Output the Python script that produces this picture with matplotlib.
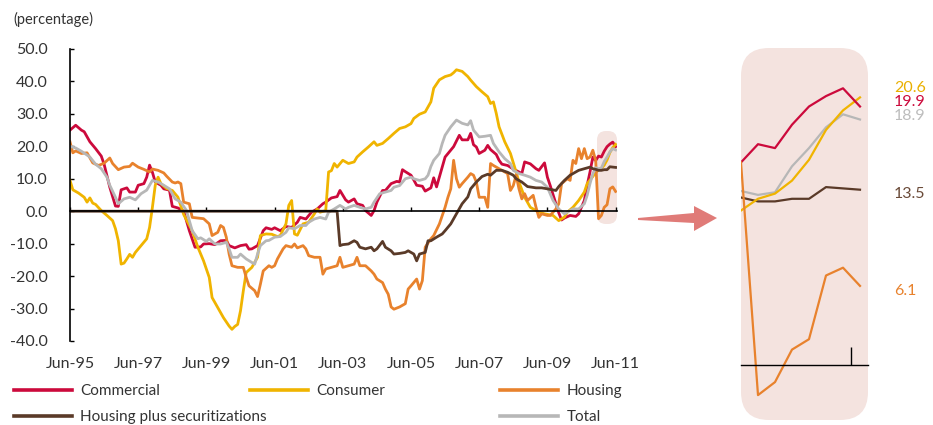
import matplotlib
matplotlib.use('Agg')
import matplotlib.pyplot as plt
from matplotlib.patches import FancyBboxPatch, Polygon
from matplotlib.lines import Line2D

plt.rcParams['font.family'] = ['Lato', 'DejaVu Sans']

# month offset from Jun-95, value (%)
commercial = [(0, 25), (2, 26.5), (4, 25), (5, 24.5), (7, 21.4), (9, 19.3), (11, 17), (12, 14.5), (14, 7.4),
              (16, 1.6), (17, 1.5), (18, 6.6), (20, 7.2), (21, 5.9), (23, 5.9), (24, 8), (26, 8.5), (27, 10.5),
              (28, 14.2), (29, 12), (30, 9), (32, 8), (33, 6.9), (35, 6.5), (36, 1.5), (38, 1.0), (40, 0),
              (42, -6), (44, -11.1), (46, -11), (47, -10.1), (49, -10), (51, -10.3), (53, -9.1), (55, -9),
              (56, -10.6), (58, -11.3), (60, -10.6), (62, -10.3), (63, -11.7), (64, -11.6), (66, -10.6),
              (68, -6), (69, -5.1), (71, -5.6), (72, -5.1), (74, -6), (76, -4.7), (78, -5), (80, -3.4),
              (81, -1.9), (83, -2.4), (85, -0.3), (87, 0.7), (89, 2.3), (90, 2.8), (92, 4.1), (94, 4.5),
              (95, 6.4), (97, 3.5), (98, 2.8), (100, 3.8), (101, 2.3), (103, 1.8), (104, 0.2), (106, -1.3),
              (107, 0.2), (108, 2.8), (110, 6.4), (111, 6.4), (113, 8.5), (115, 9.2), (116, 9), (117, 12.8),
              (118, 12.2), (120, 11.1), (121, 9.6), (122, 8), (124, 7.7), (125, 6.2), (127, 7.2), (128, 10.3),
              (129, 7.5), (131, 13.6), (132, 16.7), (134, 18.8), (135, 19.9), (137, 23.4), (138, 22),
              (140, 22), (141, 24), (142, 20.5), (143, 19.8), (144, 17.8), (146, 18.8), (147, 20.3),
              (148, 19), (150, 17.5), (151, 15.7), (152, 14.5), (154, 14.1), (156, 13), (158, 12.1),
              (159, 11.6), (160, 15.2), (162, 14.6), (164, 13.1), (165, 12.6), (167, 14.9), (168, 10.5),
              (169, 7.9), (171, 2.3), (172, -0.5), (173, -2.7), (174, -2.1), (176, -1.3), (178, -1.6),
              (179, -0.8), (181, 3.3), (182, 8), (183, 12.1), (184, 16.7), (185, 15.6), (186, 17.0),
              (187, 16.7), (188, 18.5), (189, 19.9), (190, 20.7), (191, 21.3), (192, 19.9)]

consumer = [(0, 9.5), (1, 6.6), (3, 5.6), (5, 4.3), (6, 2.8), (7, 4.1), (8, 2.5), (9, 2.1), (11, 0.2),
            (13, -1.3), (15, -2.9), (16, -5.4), (17, -9.1), (18, -16.3), (19, -16), (20, -14.7),
            (21, -13.3), (22, -14.2), (23, -12.7), (25, -10.6), (27, -8.5), (28, -5), (29, 1.2), (30, 8),
            (31, 10.5), (32, 8.5), (34, 7), (36, 6.4), (38, 4.3), (40, -1), (43, -6), (45, -11.1),
            (47, -15.3), (49, -20.4), (50, -26.6), (52, -29.7), (54, -32.8), (56, -35.4), (57, -36.4),
            (58, -35.5), (59, -34.9), (60, -30.7), (61, -24.5), (62, -18.9), (64, -17.3), (66, -14.2),
            (67, -7.5), (69, -7), (71, -7.1), (73, -7.8), (74, -7.5), (76, -3.9), (77, 1.8), (78, 3.3),
            (79, -7), (80, -7.4), (82, -3.9), (84, -3.4), (86, -0.8), (87, 0.7), (88, -0.3), (90, 0.2),
            (91, 12.1), (92, 12.5), (93, 14.7), (94, 13.6), (96, 15.7), (98, 14.7), (100, 15.2),
            (101, 16.7), (103, 18.3), (105, 19.8), (107, 21.4), (108, 20.3), (110, 20.9), (112, 22.4),
            (114, 24), (116, 25.5), (118, 26), (120, 27), (121, 28.6), (123, 29.9), (125, 30.6),
            (127, 33.7), (128, 37.9), (130, 40.5), (132, 41.5), (134, 42), (135, 42.7), (136, 43.6),
            (138, 43.1), (140, 41.5), (141, 40.4), (143, 38.4), (145, 36.8), (147, 35.3), (148, 33.2),
            (149, 33.7), (150, 30.2), (151, 26), (153, 21.4), (155, 17.8), (157, 12.1), (158, 9),
            (160, 4.3), (162, 1.2), (165, -0.3), (167, -0.8), (170, -1.3), (172, -2.9), (174, -1.8),
            (175, -0.3), (177, 1.2), (179, 3.3), (181, 5.9), (182, 8.5), (184, 10.7), (185, 11.9),
            (186, 12.8), (187, 13.2), (188, 14.2), (189, 15.8), (190, 18.1), (191, 19.6), (192, 20.6)]

housing = [(0, 21.4), (1, 18), (2, 18.6), (4, 17.8), (6, 18), (8, 14.9), (10, 14.1), (12, 14.8), (14, 16.4),
           (15, 14.7), (17, 12.8), (19, 13.6), (21, 13.8), (22, 14.8), (24, 13.6), (26, 12.9), (28, 12.1),
           (29, 13), (31, 12.6), (33, 11.8), (34, 10.8), (36, 9), (37, 8.7), (38, 9), (39, 8.5), (40, 2.8),
           (42, 2.3), (43, -1.9), (45, -2.1), (47, -2.3), (49, -3.9), (50, -7.5), (52, -6.5), (53, -4.4),
           (54, -5), (55, -8), (56, -13.2), (57, -16.8), (59, -17.3), (61, -17.3), (62, -20.4), (63, -23),
           (65, -24.5), (66, -26.3), (67, -22.5), (68, -18.4), (70, -16.8), (71, -17.3), (72, -16.8),
           (73, -14.7), (75, -11.6), (76, -10.6), (78, -11.1), (79, -10.1), (80, -11.3), (82, -10.6),
           (83, -11.6), (84, -13.7), (86, -14.2), (88, -14.2), (89, -19.4), (90, -17.8), (92, -17.3),
           (94, -16.8), (95, -14.2), (96, -17.3), (98, -16.8), (100, -16.3), (101, -14.2), (102, -16.8),
           (104, -16.8), (106, -18.4), (107, -19.4), (108, -20.9), (110, -22), (111, -24), (112, -25.6),
           (113, -29.5), (114, -30.2), (116, -29.5), (118, -28.5), (119, -24), (120, -23), (122, -20.9),
           (123, -24), (124, -21.4), (125, -11.1), (127, -8.5), (128, -7.5), (130, -3.9), (132, 1.2),
           (133, 4.3), (134, 6.9), (135, 15.7), (136, 10), (137, 7.4), (138, 8.5), (140, 10.5), (141, 11.6),
           (142, 11.1), (143, 9), (144, 4.3), (146, 4.3), (147, 1.2), (148, 14.7), (149, 14.1), (151, 13.1),
           (152, 12.6), (153, 12.1), (154, 11.6), (155, 6.4), (156, 7.9), (157, 11.1), (158, 6.9),
           (159, 3.8), (160, 5.4), (161, 3.3), (163, 4.9), (164, 1.2), (165, -1.9), (166, -0.8),
           (168, -1.3), (169, -1.3), (171, 0.7), (172, 2.3), (173, 8.5), (175, 10), (176, 9.5), (177, 15.7),
           (178, 14.7), (179, 19.3), (180, 16.2), (181, 19.3), (182, 16.2), (183, 16.7), (184, 18.8),
           (185, 15.6), (186, -2.3), (187, -1.3), (188, 1.2), (189, 2.0), (190, 6.9), (191, 7.5), (192, 6.1)]

housing_sec = [(0, 0), (94, 0), (95, -10.6), (96, -10.3), (98, -10.1), (100, -9.1), (101, -9.6), (102, -11.1),
               (104, -11.6), (106, -11.1), (107, -12.2), (108, -11.6), (110, -9.3), (111, -11.1), (113, -12.2),
               (114, -13.2), (116, -13), (118, -12.7), (119, -12.2), (121, -13.2), (122, -15.3), (123, -13.2),
               (125, -12.7), (126, -9.1), (127, -9.1), (129, -8), (131, -7), (132, -6), (134, -3.9),
               (136, -0.8), (138, 2.3), (140, 4.4), (141, 6.9), (143, 9), (145, 10.7), (147, 11.4),
               (148, 11.1), (150, 12.6), (152, 12.6), (154, 12), (156, 11.1), (157, 10), (159, 9), (161, 7.6),
               (164, 7.2), (166, 7.2), (168, 6.9), (171, 6.4), (172, 7.6), (174, 9.5), (176, 11.1), (178, 12.1),
               (179, 12.6), (181, 13.1), (183, 13.6), (184, 13.1), (185, 12.9), (186, 12.6), (187, 12.6),
               (188, 12.8), (189, 12.8), (190, 13.7), (191, 13.6), (192, 13.5)]

total = [(0, 20), (2, 19.5), (4, 18.5), (7, 16.7), (9, 14.5), (11, 13.1), (13, 10.5), (14, 8), (16, 4.3),
         (17, 2.3), (19, 3.8), (21, 4.3), (23, 3.5), (25, 5.4), (27, 6.5), (29, 9.5), (31, 9), (33, 8),
         (35, 6.9), (37, 3.8), (39, 2.8), (41, 0.2), (43, -6), (45, -8.5), (46, -8.2), (48, -9.3), (49, -8.5),
         (51, -10.1), (53, -10.1), (55, -9.6), (56, -11.6), (57, -14.2), (59, -14.2), (60, -13.2), (62, -14.7),
         (64, -15.8), (65, -16.3), (66, -13.2), (67, -10.6), (69, -9.1), (70, -9), (72, -8), (74, -7.8),
         (76, -6.5), (77, -5.1), (79, -5.4), (81, -4.4), (83, -4.4), (84, -3.4), (86, -2.4), (88, -1.9),
         (90, -2.4), (91, -0.3), (93, 0.7), (95, 1.8), (97, 0.7), (98, 1.2), (100, 1.8), (102, 1.2), (104, 0.7),
         (106, 1.2), (107, 2.8), (109, 5.4), (111, 5.9), (113, 6.4), (114, 7.4), (116, 7.9), (118, 10),
         (120, 10.5), (121, 10), (123, 9.5), (125, 10), (126, 11.1), (127, 13.8), (128, 15.7), (130, 17.8),
         (131, 20.9), (132, 23.4), (134, 26), (136, 28.1), (138, 27.1), (140, 26.6), (141, 27.9), (142, 25),
         (144, 22.9), (146, 23.1), (148, 23.4), (149, 20.9), (151, 18.3), (153, 16.2), (155, 14.7),
         (156, 12.6), (158, 11.6), (160, 11.1), (162, 10.5), (164, 9.5), (166, 9), (168, 7.4), (170, 3.3),
         (172, 0.7), (174, -0.8), (175, -0.3), (177, 0.7), (179, 0.7), (181, 2.3), (182, 4.9), (183, 8.5),
         (184, 11.6), (185, 13.4), (186, 13.1), (187, 13.3), (188, 15.3), (189, 16.7), (190, 18.3),
         (191, 19.3), (192, 18.9)]

tick_months = [0, 24, 48, 72, 96, 120, 144, 168, 192]
tick_labels = ['Jun-95', 'Jun-97', 'Jun-99', 'Jun-01', 'Jun-03', 'Jun-05', 'Jun-07', 'Jun-09', 'Jun-11']
y_ticks = [50, 40, 30, 20, 10, 0, -10, -20, -30, -40]
zoom_start = 185   # first month shown in the blow-up panel

C_COM, C_CON, C_HOU, C_HS, C_TOT = '#cc0a3c', '#f0b400', '#e8822d', '#5a3a28', '#b7b7b7'
PINK = '#f4e3df'
TXT = '#333333'

W, H = 933, 425
fig = plt.figure(figsize=(W / 100, H / 100), dpi=100)


def fx(x):
    return x / W


def fy(y):
    return 1 - y / H


def rbox(ax, x0, y0, x1, y1, r):
    p = FancyBboxPatch((fx(x0), fy(y1)), (x1 - x0) / W, (y1 - y0) / H,
                       boxstyle='round,pad=0,rounding_size=%f' % (r / W), mutation_aspect=W / H,
                       transform=fig.transFigure, fc=PINK, ec='none', zorder=0.5, clip_on=False)
    ax.add_patch(p)


series = [(commercial, C_COM, 'Commercial'), (consumer, C_CON, 'Consumer'), (housing, C_HOU, 'Housing'),
          (total, C_TOT, 'Total'), (housing_sec, C_HS, 'Housing plus securitizations')]

# ---- main chart
ax = fig.add_axes([fx(70), fy(341), (617 - 70) / W, (341 - 49) / H])
ax.patch.set_alpha(0)
rbox(ax, 597, 131, 617, 224, 9)
for data, col, name in series:
    m, v = zip(*data)
    ax.plot(m, v, color=col, lw=2.0, solid_joinstyle='round', zorder=2)
ax.set_xlim(0, 192.5)
ax.set_ylim(-40, 50)
for s in ['top', 'right']:
    ax.spines[s].set_visible(False)
ax.spines['bottom'].set_position(('data', 0))
ax.spines['bottom'].set_linewidth(1.2)
ax.spines['left'].set_linewidth(1.2)
ax.set_xticks(tick_months)
ax.tick_params(axis='x', direction='in', length=3, width=1, labelbottom=False)
ax.set_yticks(y_ticks)
ax.set_yticklabels(['%.1f' % t for t in y_ticks])
ax.tick_params(axis='y', direction='in', length=3, width=1, pad=16, labelsize=11.5, labelcolor=TXT)
for m, lab in zip(tick_months, tick_labels):
    ax.text(m, -0.079, lab, transform=ax.get_xaxis_transform(), ha='center', va='center',
            fontsize=11.5, color=TXT)
fig.text(fx(13), fy(19), '(percentage)', fontsize=10.5, color=TXT, va='center', ha='left')

# ---- blow-up panel
ax2 = fig.add_axes([fx(741), fy(420), (868 - 741) / W, (420 - 48) / H])
ax2.patch.set_alpha(0)
rbox(ax2, 741, 48, 868, 420, 28)
order2 = [(housing_sec, C_HS), (total, C_TOT), (consumer, C_CON), (commercial, C_COM), (housing, C_HOU)]
for data, col in order2:
    pts = [(m - zoom_start, v) for m, v in data if m >= zoom_start]
    m, v = zip(*pts)
    ax2.plot(m, v, color=col, lw=1.6, zorder=2)
ax2.set_xlim(0, 127 / 17)
ax2.set_ylim((365.2 - 420) / 13, (365.2 - 48) / 13)
for s in ['top', 'right', 'left']:
    ax2.spines[s].set_visible(False)
ax2.spines['bottom'].set_position(('data', 0))
ax2.spines['bottom'].set_linewidth(1.0)
ax2.set_yticks([])
ax2.set_xticks([6.47])
ax2.tick_params(axis='x', direction='in', length=13, width=1, labelbottom=False)

# end values next to the panel
end_labels = [(consumer, '#e9b000', 88), (commercial, C_COM, 101.5), (total, '#bdbdbd', 116),
              (housing_sec, '#6a4a38', 193.5), (housing, C_HOU, 291)]
for data, col, ypx in end_labels:
    fig.text(fx(894), fy(ypx), '%.1f' % data[-1][1], color=col, fontsize=11.5, va='center', ha='left')

# arrow
arrow_px = [(638, 218), (694, 213), (694, 206), (717, 218), (694, 231), (694, 223), (638, 220)]
fig.add_artist(Polygon([(fx(x), fy(y)) for x, y in arrow_px], closed=True, fc='#e07b78', ec='none',
                       transform=fig.transFigure))

# legend
h = {name: Line2D([], [], color=col, lw=2.6) for _, col, name in series}
kw = dict(frameon=False, fontsize=11, handlelength=3.8, handletextpad=0.55, labelspacing=0.78,
          borderpad=0, borderaxespad=0, loc='upper left', labelcolor=TXT)
fig.legend([h['Commercial'], h['Housing plus securitizations']], ['Commercial', 'Housing plus securitizations'],
           bbox_to_anchor=(fx(14), fy(384)), **kw)
fig.legend([h['Consumer']], ['Consumer'], bbox_to_anchor=(fx(250), fy(384)), **kw)
fig.legend([h['Housing'], h['Total']], ['Housing', 'Total'], bbox_to_anchor=(fx(500), fy(384)), **kw)

fig.savefig('out.png', dpi=100)
